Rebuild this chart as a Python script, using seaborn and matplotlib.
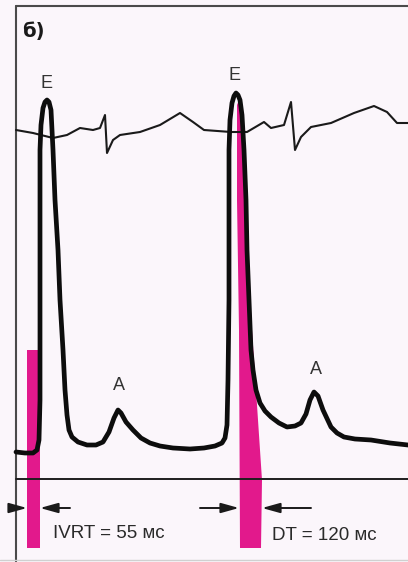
"""
Mitral inflow Doppler trace with ECG: IVRT and DT markers.
"""

import matplotlib
matplotlib.use("Agg")
import matplotlib.pyplot as plt
import seaborn as sns

# ECG trace (time units = screen x, amplitude = screen y, y grows downwards)
ecg_t = [16, 33, 53, 67, 80, 93, 100, 105, 107, 113, 120, 140, 160, 180, 193, 204,
         231, 247, 264, 271, 284, 291, 295, 301, 311, 331, 354, 374, 387, 397, 408]
ecg_v = [130, 133, 138, 135, 128, 130, 128, 115, 153, 140, 135, 132, 125, 113, 122, 130,
         132, 132, 122, 128, 125, 102, 150, 137, 127, 123, 113, 106, 112, 123, 123]

# Doppler mitral inflow envelope
doppler_t = [16, 25, 33, 37, 39, 40, 40, 40, 40, 41, 43, 45, 47, 49, 51, 52, 53, 55, 58, 60,
             63, 65, 67, 69, 72, 78, 87, 96, 103, 109, 114, 118, 121, 126, 133, 141, 150,
             160, 173, 190, 204, 215, 222, 225, 227, 228, 229, 229, 229, 230, 232, 234, 236,
             238, 240, 242, 244, 246, 247, 249, 251, 253, 256, 260, 265, 271, 279, 287, 295,
             301, 306, 310, 314, 318, 323, 331, 337, 344, 355, 371, 390, 408]
doppler_v = [452, 453, 453, 450, 440, 400, 300, 200, 150, 125, 108, 102, 100, 102, 110, 130,
             150, 200, 250, 300, 350, 390, 415, 430, 437, 442, 445, 445, 442, 432, 418, 410,
             413, 422, 430, 438, 443, 446, 448, 449, 448, 446, 443, 438, 425, 380, 300, 200,
             150, 120, 103, 96, 93, 95, 100, 115, 150, 200, 250, 300, 350, 370, 390, 403, 411,
             417, 423, 427, 426, 423, 414, 400, 392, 396, 410, 427, 433, 437, 439, 440, 443,
             445]

zero_line = 479

# IVRT band and deceleration band (screen units)
ivrt_t = [27, 40, 40, 27]
ivrt_v = [350, 350, 548, 548]
dt_t = [237, 239, 241, 246, 252, 258, 262, 261, 240, 239, 237]
dt_v = [105, 100, 105, 220, 330, 420, 480, 548, 548, 330, 200]

# Wave labels
wave_labels = ["E", "A", "E", "A"]
wave_t = [47, 119, 235, 316]
wave_v = [84, 385, 76, 370]

# Measurement arrows: (tail, tip) pairs
measure_y = 508
arrows = [(17, 27), (70, 40), (200, 239), (311, 262)]
captions = ["IVRT = 55 мс", "DT = 120 мс"]
caption_t = [53, 272]
caption_v = [533, 535]

bg = "#fbf6fb"
pink = "#e2198c"

sns.set_theme(style="white", rc={"figure.facecolor": bg, "axes.facecolor": bg})
plt.rcParams['font.family'] = ['Liberation Sans', 'DejaVu Sans']

fig = plt.figure(figsize=(4.08, 5.62), dpi=100)
ax = fig.add_axes([0, 0, 1, 1])
ax.set_xlim(0, 408)
ax.set_ylim(562, 0)
ax.axis('off')

# frame
ax.plot([16, 16], [6, 562], color="#4a4a4a", lw=1.5, zorder=1)
ax.plot([16, 408], [6, 6], color="#4a4a4a", lw=1.5, zorder=1)
ax.plot([0, 408], [560, 560], color="#d0d0d0", lw=1.0, zorder=1)

ax.fill(ivrt_t, ivrt_v, color=pink, lw=0, zorder=2)
ax.fill(dt_t, dt_v, color=pink, lw=0, zorder=2)

ax.axhline(zero_line, xmin=16 / 408, color="#1e1e1e", lw=1.4, zorder=3)

sns.lineplot(x=ecg_t, y=ecg_v, sort=False, estimator=None, ax=ax,
             color="#1a1a1a", lw=1.5, zorder=3,
             solid_joinstyle='round')
sns.lineplot(x=doppler_t, y=doppler_v, sort=False, estimator=None, ax=ax,
             color="#0d0d0d", lw=3.4, zorder=4,
             solid_joinstyle='round', solid_capstyle='round')

for lab, t, v in zip(wave_labels, wave_t, wave_v):
    ax.text(t, v, lab, ha='center', va='center', fontsize=13, color="#333333")

for tail, tip in arrows:
    ax.annotate('', xy=(tip, measure_y), xytext=(tail, measure_y),
                arrowprops=dict(arrowstyle='-|>,head_length=0.9,head_width=0.25',
                                color="#1a1a1a", lw=1.4, shrinkA=0, shrinkB=0),
                zorder=5)

for txt, t, v in zip(captions, caption_t, caption_v):
    ax.text(t, v, txt, ha='left', va='center', fontsize=13.5, color="#2a2a2a")

ax.text(22, 32, "б)", ha='left', va='center', fontsize=14, fontweight='bold',
        family='DejaVu Sans', color="#1a1a1a")

fig.savefig("out.png", dpi=100, facecolor=bg)
